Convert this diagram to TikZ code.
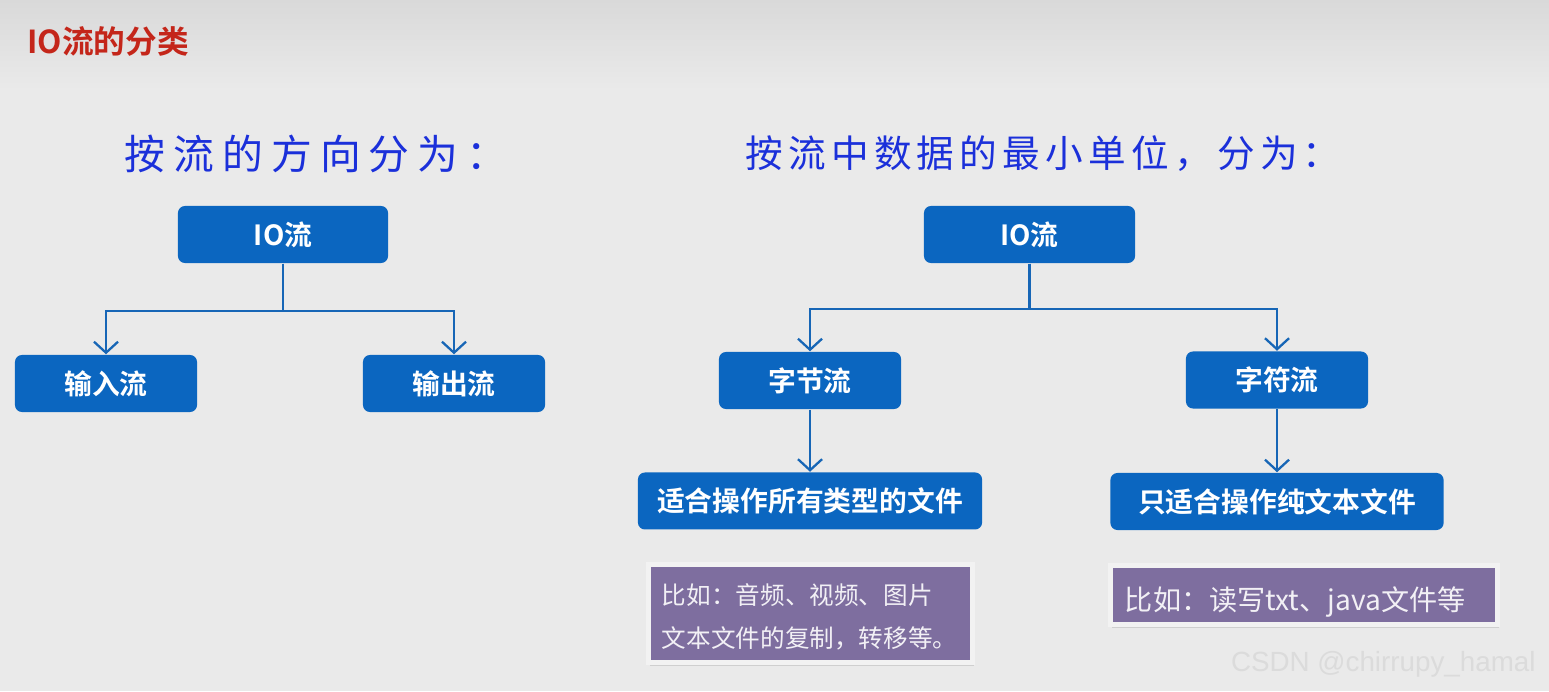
\documentclass[tikz,border=0pt]{standalone}
\usepackage{fontspec}
\usepackage{tikz}
\usetikzlibrary{positioning,arrows.meta,shadows}
\newfontfamily\cjk{Noto Sans CJK SC}[BoldFont={Noto Sans CJK SC Bold}]
\newfontfamily\wmfont{Liberation Sans}

\definecolor{boxblue}{HTML}{0B66C0}
\definecolor{linkblue}{HTML}{1766B6}
\definecolor{headblue}{HTML}{1B30DA}
\definecolor{titlered}{HTML}{C4261A}
\definecolor{notepurple}{HTML}{7E6E9F}
\definecolor{noteedge}{HTML}{F2F2F2}
\definecolor{bggray}{HTML}{EAEAEA}
\definecolor{bgtop}{HTML}{D9D9D9}

\begin{document}
\begin{tikzpicture}[x=0.01cm, y=-0.01cm,
    flowbox/.style={fill=boxblue, rounded corners=2pt, text=white,
        font=\cjk\bfseries\fontsize{7.9}{9}\selectfont,
        minimum height=0.57cm, inner sep=0pt},
    notebox/.style={fill=notepurple, draw=noteedge, line width=0.05cm,
        text=white!90!notepurple, align=left,
        font=\cjk\fontsize{7}{12.2}\selectfont,
        drop shadow={opacity=0.25, shadow xshift=0.4pt, shadow yshift=-0.9pt}},
    link/.style={draw=linkblue, line width=0.65pt,
        -{Straight Barb[length=1.1mm, width=2.4mm]}},
    heading/.style={text=headblue, font=\cjk\fontsize{11.6}{13}\selectfont}
]
    \useasboundingbox (0,0) rectangle (1549,691);
    \fill[bggray] (0,0) rectangle (1549,691);
    \shade[top color=bgtop, bottom color=bggray] (0,0) rectangle (1549,90);

    % title
    \node[anchor=west, text=titlered, font=\cjk\bfseries\fontsize{9}{11}\selectfont]
        (title) at (15,41) {IO流的分类};

    % headings
    \node[heading] (dirhead) at (316,154)
        {\addfontfeature{LetterSpace=20}按流的方向分为：};
    \node[heading, font=\cjk\fontsize{10.7}{12}\selectfont] (unithead) at (1043,154)
        {\addfontfeature{LetterSpace=14}按流中数据的最小单位，分为：};

    % by direction
    \node[flowbox, minimum width=2.1cm] (dirio) at (283,234.5) {IO流};
    \node[flowbox, minimum width=1.82cm] (input) at (106,383.5) {输入流};
    \node[flowbox, minimum width=1.82cm] (output) at (454,383.5) {输出流};

    \draw[link] (dirio.south) -- ++(0,47) -| (input);
    \draw[link] (dirio.south) -- ++(0,47) -| (output);

    % by unit
    \node[flowbox, minimum width=2.11cm] (unitio) at (1029.5,234.5) {IO流};
    \node[flowbox, minimum width=1.82cm] (bytes) at (810,380.5) {字节流};
    \node[flowbox, minimum width=1.82cm] (chars) at (1277,380) {字符流};
    \node[flowbox, minimum width=3.44cm, below=0.62cm of bytes] (bytefit) {适合操作所有类型的文件};
    \node[flowbox, minimum width=3.33cm, below=0.63cm of chars] (charfit) {只适合操作纯文本文件};

    \draw[link] (unitio.south) -- ++(0,45) -| (bytes);
    \draw[link] (unitio.south) -- ++(0,45) -| (chars);
    \draw[link] (bytes) -- (bytefit);
    \draw[link] (chars) -- (charfit);

    % examples
    \node[notebox, minimum width=3.24cm, minimum height=0.98cm,
        text width=2.97cm, inner xsep=0.135cm, inner ysep=0pt] (bytenote) at (810.5,613.5)
        {\rule{0pt}{8pt}比如：音频、视频、图片\\文本文件的复制，转移等。};
    \node[notebox, minimum width=3.87cm, minimum height=0.59cm,
        text width=3.58cm, inner xsep=0.145cm, inner ysep=0pt,
        font=\cjk\fontsize{8}{10}\selectfont]
        (charnote) at (1304,595) {\rule{0pt}{11pt}比如：读写txt、java文件等};

    % watermark
    \node[anchor=east, text=white!72!gray, font=\wmfont\fontsize{7.9}{10}\selectfont]
        (mark) at (1548,664) {CSDN @chirrupy\_hamal};
\end{tikzpicture}
\end{document}
